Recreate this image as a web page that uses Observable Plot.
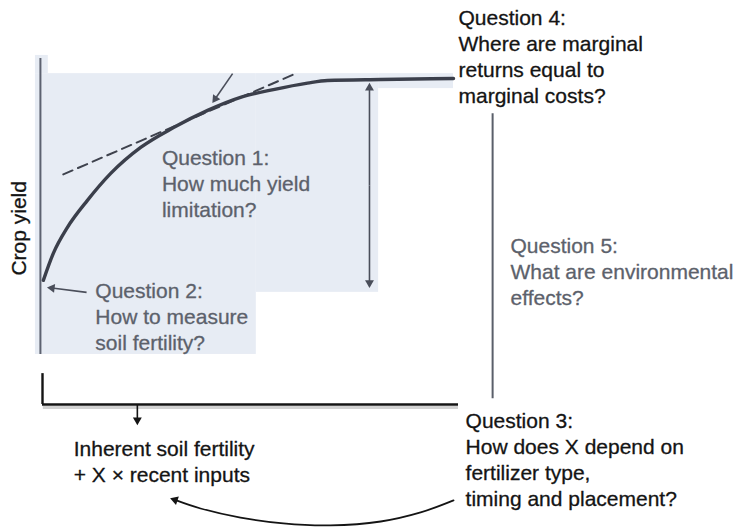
<!DOCTYPE html>
<html>
<head>
<meta charset="utf-8">
<script src="https://cdn.jsdelivr.net/npm/d3@7"></script>
<script src="https://cdn.jsdelivr.net/npm/@observablehq/plot@0.6"></script>
<style>
  html, body { margin: 0; padding: 0; background: #fff; }
  #chart svg { display: block; }
</style>
</head>
<body>
<div id="chart"></div>
<script>
// ---- Data (conceptual units: input 0..10 along the x axis, yield 0..10 up the y axis) ----
const curveInput = [0.02, 0.26, 0.60, 1.08, 1.64, 2.36, 3.15, 3.97, 4.76, 5.55, 6.37, 6.85, 8.13, 9.88];
const curveYield = [3.82, 4.65, 5.45, 6.28, 7.11, 7.91, 8.52, 9.05, 9.45, 9.69, 9.89, 9.97, 10.00, 10.03];

const tangentInput = [0.50, 6.08];
const tangentYield = [7.08, 10.18];

// shaded (scanned) panel pieces
const shadeX1 = [-0.17, -0.17, 5.14, 8.08];
const shadeX2 = [0.14, 5.14, 8.08, 9.88];
const shadeY1 = [10.18, 1.54, 3.45, 9.72];
const shadeY2 = [10.74, 10.18, 10.18, 10.18];

// arrow segments: start -> end
const arrowFromX = [4.57, 1.06, 2.28, 7.86, 7.86];
const arrowFromY = [10.18, 3.45, 0.00, 6.74, 6.74];
const arrowToX   = [4.09, 0.12, 2.28, 7.86, 7.86];
const arrowToY   = [9.29, 3.60, -0.62, 9.88, 3.60];
const arrowTone  = ["gray", "gray", "black", "gray", "gray"];

// curved return arrow (from Question 3 back to the x-axis label)
const returnX = [9.88, 9.09, 8.13, 6.92, 5.79, 4.76, 3.80, 3.08];
const returnY = [-2.95, -3.32, -3.60, -3.72, -3.66, -3.48, -3.20, -2.89];

const labels = [
  "Question 4:\nWhere are marginal\nreturns equal to\nmarginal costs?",
  "Question 1:\nHow much yield\nlimitation?",
  "Question 2:\nHow to measure\nsoil fertility?",
  "Question 5:\nWhat are environmental\neffects?",
  "Question 3:\nHow does X depend on\nfertilizer type,\ntiming and placement?",
  "Inherent soil fertility\n+ X \u00d7 recent inputs"
];
const labelX = [10.00, 2.87, 1.27, 11.25, 10.17, 0.75];
const labelY = [12.26, 7.95, 3.86, 5.24, -0.14, -1.01];
const labelTone = ["black", "gray", "gray", "gray", "black", "black"];
const yTitle = "Crop yield";

// ---- Layout ----
const W = 738, H = 527;
const mL = 42, mR = 280, mT = 79, mB = 123;
const kx = (W - mL - mR) / 10, ky = (H - mT - mB) / 10;
const tones = {black: "#141414", gray: "#5c616b"};
const lineColor = "#3b3f4b";
const bg = "#e7ecf4";

const curve = curveInput.map((x, i) => ({x, y: curveYield[i]}));
const tangent = tangentInput.map((x, i) => ({x, y: tangentYield[i]}));
const shade = shadeX1.map((x1, i) => ({x1, x2: shadeX2[i], y1: shadeY1[i], y2: shadeY2[i]}));
const ret = returnX.map((x, i) => ({x, y: returnY[i]}));

function head(x1, y1, x2, y2, back) {
  const dx = (x2 - x1) * kx, dy = -(y2 - y1) * ky;
  const len = Math.hypot(dx, dy);
  const ux = dx / len, uy = dy / len;
  return {x: x2 - ux * back / kx, y: y2 + uy * back / ky, rotate: Math.atan2(dx, -dy) * 180 / Math.PI};
}
const back = 4.6;
const arrows = arrowFromX.map((x1, i) => {
  const h = head(x1, arrowFromY[i], arrowToX[i], arrowToY[i], back);
  return {x1, y1: arrowFromY[i], x2: h.x, y2: h.y, hx: h.x, hy: h.y, rotate: h.rotate, color: arrowTone[i] === "black" ? tones.black : "#4a4e5a"};
});
const n = ret.length;
const rh = head(ret[n - 2].x, ret[n - 2].y, ret[n - 1].x, ret[n - 1].y, back);
const retShaft = ret.slice(0, n - 1).concat([{x: rh.x, y: rh.y}]);

const labelData = labels.map((t, i) => ({t, x: labelX[i], y: labelY[i], fill: tones[labelTone[i]]}));

const font = "'Liberation Sans', Arial, Helvetica, sans-serif";
const fs = 21;

const chart = Plot.plot({
  width: W, height: H,
  marginLeft: mL, marginRight: mR, marginTop: mT, marginBottom: mB,
  x: {domain: [0, 10], axis: null},
  y: {domain: [0, 10], axis: null},
  color: {type: "identity"},
  style: {fontFamily: font, background: "#fff", overflow: "visible"},
  marks: [
    Plot.rect(shade, {x1: "x1", x2: "x2", y1: "y1", y2: "y2", fill: bg}),
    // scanned gray y axis
    Plot.ruleX([-0.05], {y1: 1.54, y2: 10.65, stroke: "#5d6270", strokeWidth: 2}),
    // black axes of the lower part
    Plot.ruleY([0], {x1: 0.02, x2: 10, stroke: "#d2d2d2", strokeWidth: 3, dy: 3}),
    Plot.ruleY([0], {x1: 0, x2: 10, stroke: tones.black, strokeWidth: 2.4}),
    Plot.ruleX([0], {y1: 0, y2: 0.95, stroke: tones.black, strokeWidth: 2.4}),
    // divider on the right
    Plot.ruleX([10.82], {y1: 0.18, y2: 8.95, stroke: "#5a5f6a", strokeWidth: 2}),
    // tangent + response curve
    Plot.line(tangent, {x: "x", y: "y", stroke: "#3e424d", strokeWidth: 2, strokeDasharray: "10,6"}),
    Plot.line(curve, {x: "x", y: "y", stroke: lineColor, strokeWidth: 3.4, curve: "monotone-x"}),
    // straight arrows
    Plot.link(arrows, {x1: "x1", y1: "y1", x2: "x2", y2: "y2", stroke: "color", strokeWidth: 1.6}),
    Plot.dot(arrows, {x: "hx", y: "hy", rotate: "rotate", symbol: "triangle", r: 3.3, fill: "color", stroke: null}),
    // curved return arrow
    Plot.line(retShaft, {x: "x", y: "y", stroke: tones.black, strokeWidth: 1.8, curve: "catmull-rom"}),
    Plot.dot([rh], {x: "x", y: "y", rotate: "rotate", symbol: "triangle", r: 3.3, fill: tones.black, stroke: null}),
    // annotations
    Plot.text(labelData, {
      x: "x", y: "y", text: "t", fill: "fill", stroke: "fill", strokeWidth: 0.3,
      textAnchor: "start", lineAnchor: "top",
      fontSize: fs, lineHeight: 1.24, fontFamily: font
    }),
    Plot.text([yTitle], {
      x: -0.5625, y: 5.42, text: d => d, rotate: -90, textAnchor: "middle", lineAnchor: "middle",
      fontSize: fs, fill: tones.black, stroke: tones.black, strokeWidth: 0.3, fontFamily: font
    })
  ]
});
document.getElementById("chart").appendChild(chart);
</script>
</body>
</html>
